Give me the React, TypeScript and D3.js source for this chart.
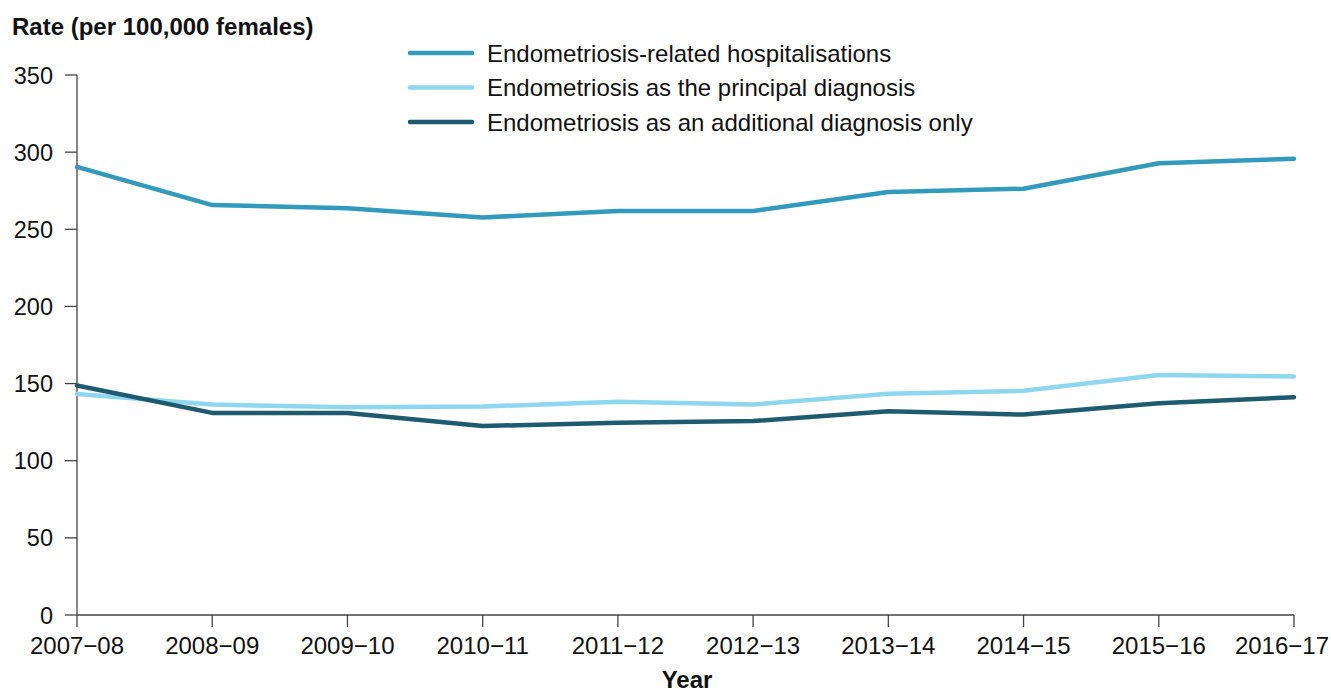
import React from "react";
import * as d3 from "d3";

const years = ["2007-08","2008-09","2009-10","2010-11","2011-12","2012-13","2013-14","2014-15","2015-16","2016-17"];
const yearLabels = [
  "2007\u221208","2008\u221209","2009\u221210","2010\u221211","2011\u221212",
  "2012\u221213","2013\u221214","2014\u221215","2015\u221216","2016\u221217",
];
const totalRate = [290.4, 265.7, 263.6, 257.7, 261.8, 261.8, 274.2, 276.3, 292.8, 295.7];
const principalRate = [143.3, 136.4, 134.6, 135.1, 138.2, 136.4, 143.4, 145.3, 155.6, 154.6];
const additionalRate = [148.7, 131.0, 131.0, 122.5, 124.6, 125.7, 132.0, 129.9, 137.3, 141.2];
const yTicks = [0, 50, 100, 150, 200, 250, 300, 350];

const seriesNames = [
  "Endometriosis-related hospitalisations",
  "Endometriosis as the principal diagnosis",
  "Endometriosis as an additional diagnosis only",
];
const seriesColors = ["#319ABD", "#8DD7F0", "#1F5B70"];

export default function App() {
  const W = 1331, H = 691;
  const left = 77, right = 1294, top = 75, bottom = 615;
  const x = d3.scalePoint<string>().domain(years).range([left, right]);
  const y = d3.scaleLinear().domain([0, 350]).range([bottom, top]);
  const line = d3.line<number>().x((_, i) => x(years[i]) as number).y((d) => y(d));
  const data = [totalRate, principalRate, additionalRate];
  const font = "'Liberation Sans', Arial, sans-serif";
  const axisColor = "#444";
  const fs = 24;

  return (
    <svg width={W} height={H} style={{ position: "absolute", left: 0, top: 0, background: "#fff" }} fontFamily={font}>
      <text x={12} y={35} fontSize={fs} fontWeight="bold" fill="#111">Rate (per 100,000 females)</text>
      {/* y axis */}
      <line x1={left} x2={left} y1={top} y2={bottom} stroke={axisColor} strokeWidth={1.3} />
      {yTicks.map((t) => (
        <g key={t}>
          <line x1={left - 12} x2={left} y1={y(t)} y2={y(t)} stroke={axisColor} strokeWidth={1.3} />
          <text x={53} y={y(t) + 8.5} textAnchor="end" fontSize={23.5} fill="#111">{t}</text>
        </g>
      ))}
      {/* x axis */}
      <line x1={left} x2={right} y1={bottom} y2={bottom} stroke={axisColor} strokeWidth={1.3} />
      {years.map((yr, i) => {
        const last = i === years.length - 1;
        return (
          <g key={yr}>
            <line x1={x(yr)} x2={x(yr)} y1={bottom} y2={bottom + 12} stroke={axisColor} strokeWidth={1.3} />
            <text x={last ? W - 2 : x(yr)} y={654} textAnchor={last ? "end" : "middle"} fontSize={fs} fill="#111">{yearLabels[i]}</text>
          </g>
        );
      })}
      <text x={687} y={688} textAnchor="middle" fontSize={fs} fontWeight="bold" fill="#111">Year</text>
      {/* lines */}
      {data.map((d, i) => (
        <path key={i} d={line(d) || ""} fill="none" stroke={seriesColors[i]} strokeWidth={4.5} strokeLinejoin="round" strokeLinecap="round" />
      ))}
      {/* legend */}
      {seriesNames.map((n, i) => (
        <g key={n}>
          <line x1={410} x2={472} y1={53 + i * 34.5} y2={53 + i * 34.5} stroke={seriesColors[i]} strokeWidth={4.5} strokeLinecap="round" />
          <text x={487} y={61.5 + i * 34.5} fontSize={fs} fill="#111">{n}</text>
        </g>
      ))}
    </svg>
  );
}
